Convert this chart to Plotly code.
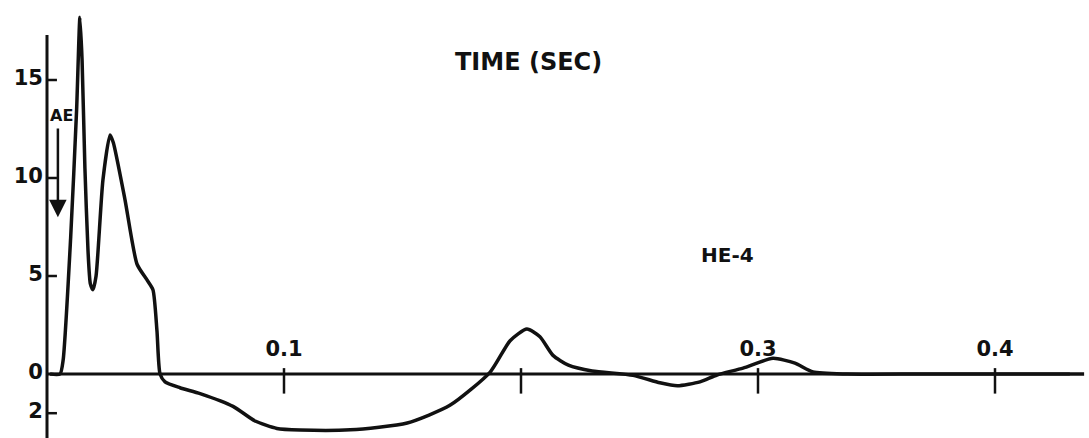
import plotly.graph_objects as go

# ---- data ----
time_s = [0.0013, 0.0055, 0.0068, 0.0100, 0.0125, 0.0139, 0.0148, 0.0160, 0.0173, 0.0183,
          0.0194, 0.0207, 0.0236, 0.0266, 0.0280, 0.0329, 0.0380, 0.0422, 0.0447, 0.0464,
          0.0477, 0.0498, 0.0561, 0.0646, 0.0785, 0.0878, 0.0970, 0.1068, 0.1280, 0.1520,
          0.1700, 0.1870, 0.1954, 0.2025, 0.2080, 0.2135, 0.2200, 0.2300, 0.2473, 0.2586,
          0.2660, 0.2755, 0.2827, 0.2937, 0.3063, 0.3156, 0.3232, 0.3376, 0.3700, 0.4376]
signal = [0.0, 0.0, 0.7, 7.0, 13.5, 18.2, 16.0, 10.5, 6.3, 4.6,
          4.3, 5.0, 9.9, 12.2, 11.8, 8.9, 5.6, 4.8, 4.3, 2.2,
          0.0, -0.4, -0.7, -1.0, -1.65, -2.4, -2.78, -2.86, -2.85, -2.5,
          -1.6, 0.1, 1.7, 2.3, 1.9, 0.95, 0.45, 0.15, -0.07, -0.45,
          -0.6, -0.4, -0.05, 0.3, 0.8, 0.55, 0.1, 0.0, 0.0, 0.0]

x_tick_vals = [0.1, 0.2, 0.3, 0.4]
x_tick_text = ["0.1", "", "0.3", "0.4"]
y_tick_vals = [15, 10, 5, 0, -2]
y_tick_text = ["15", "10", "5", "0", "2"]

x_axis_end = 0.4316
y_axis_top = 17.3
y_axis_bottom = -3.3

FONT = "DejaVu Sans"
INK = "#111111"

fig = go.Figure()

# axis lines
fig.add_trace(go.Scatter(x=[0, x_axis_end], y=[0, 0], mode="lines",
                         line=dict(color=INK, width=3), hoverinfo="skip", showlegend=False))
fig.add_trace(go.Scatter(x=[0, 0], y=[y_axis_bottom, y_axis_top], mode="lines",
                         line=dict(color=INK, width=3), hoverinfo="skip", showlegend=False))

# x tick marks (crossing the axis, mostly below)
xt_x, xt_y = [], []
for v in x_tick_vals:
    xt_x += [v, v, None]
    xt_y += [0.3, -1.0, None]
fig.add_trace(go.Scatter(x=xt_x, y=xt_y, mode="lines",
                         line=dict(color=INK, width=2.5), hoverinfo="skip", showlegend=False))

# y tick marks (pointing right from the axis)
yt_x, yt_y = [], []
for v in y_tick_vals:
    if v == 0:
        continue
    yt_x += [0, 0.0042, None]
    yt_y += [v, v, None]
fig.add_trace(go.Scatter(x=yt_x, y=yt_y, mode="lines",
                         line=dict(color=INK, width=2.5), hoverinfo="skip", showlegend=False))

# data curve
fig.add_trace(go.Scatter(x=time_s, y=signal, mode="lines",
                         line=dict(color=INK, width=3.5, shape="spline", smoothing=0.6),
                         hoverinfo="skip", showlegend=False))

# x tick labels above the axis
fig.add_trace(go.Scatter(x=x_tick_vals, y=[1.2] * len(x_tick_vals), mode="text",
                         text=x_tick_text, textposition="middle center",
                         textfont=dict(family=FONT, size=21, color=INK, weight="bold"),
                         hoverinfo="skip", showlegend=False))

# y tick labels left of the axis
fig.add_trace(go.Scatter(x=[-0.0017] * len(y_tick_vals), y=y_tick_vals, mode="text",
                         text=y_tick_text, textposition="middle left",
                         textfont=dict(family=FONT, size=21, color=INK, weight="bold"),
                         hoverinfo="skip", showlegend=False))

fig.add_annotation(x=0.203, y=15.92, text="TIME (SEC)", showarrow=False,
                   font=dict(family=FONT, size=24, color=INK, weight="bold"))
fig.add_annotation(x=0.2873, y=6.07, text="HE-4", showarrow=False,
                   font=dict(family=FONT, size=20, color=INK, weight="bold"))
fig.add_annotation(x=0.0062, y=13.2, text="AE", showarrow=False,
                   font=dict(family=FONT, size=16, color=INK, weight="bold"))
fig.add_annotation(x=0.0046, y=8.0, ax=0.0046, ay=12.6, axref="x", ayref="y",
                   xref="x", yref="y", text="", showarrow=True,
                   arrowhead=2, arrowsize=1.4, arrowwidth=2.5, arrowcolor=INK)

fig.update_layout(
    width=1089, height=438,
    margin=dict(l=0, r=0, t=0, b=0),
    paper_bgcolor="white", plot_bgcolor="white",
    xaxis=dict(range=[-47 / 2370, 1042 / 2370], visible=False),
    yaxis=dict(range=[-64 / 19.6, 374 / 19.6], visible=False),
)

fig.write_html("out.html")
